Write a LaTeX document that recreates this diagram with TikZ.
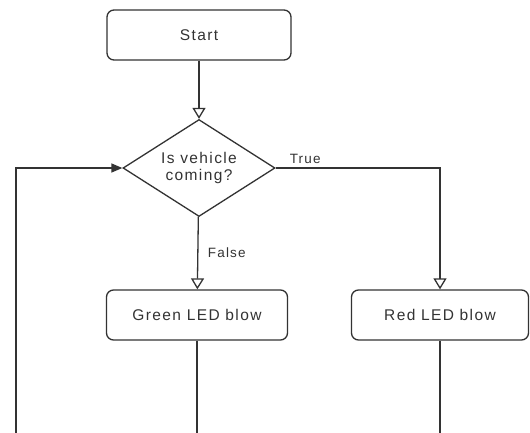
\documentclass[tikz,border=0pt]{standalone}
\usepackage{fontspec}
\setmainfont[LetterSpace=9]{Liberation Sans}
\usetikzlibrary{arrows.meta, shapes.geometric}
\definecolor{linegray}{HTML}{333333}
\tikzset{
    stepbox/.style={rectangle, rounded corners=7pt, draw=linegray, line width=1.3pt, minimum height=50pt, text=linegray, font=\fontsize{15.5}{17}\selectfont},
    decide/.style={diamond, draw=linegray, line width=1.3pt, minimum width=152pt, minimum height=97pt, inner sep=0pt, aspect=1.57, align=center, text=linegray, font=\fontsize{15.5}{16.5}\selectfont},
    flow/.style={-{Triangle[open, width=13pt, length=11pt, fill=white]}, draw=linegray, line width=1.3pt},
    back/.style={-{Triangle[width=9pt, length=11pt]}, draw=linegray, line width=1.3pt},
    line/.style={-, draw=linegray, line width=1.3pt},
    lbl/.style={text=linegray, font=\fontsize{13.5}{15}\selectfont},
}
\begin{document}
\begin{tikzpicture}[x=1pt, y=-1pt]
    \useasboundingbox (0,0) rectangle (530,432);
    \node[stepbox, minimum width=184pt] (start) at (199,35) {Start};
    \node[decide] (vehicle) at (199,168) {Is vehicle\\coming?};
    \node[stepbox, minimum width=181pt] (green) at (197,315) {Green LED blow};
    \node[stepbox, minimum width=177pt] (red) at (440,315) {Red LED blow};
    \coordinate (loopend) at (16,434);
    \coordinate (greenend) at (197,434);
    \coordinate (redend) at (440,434);
    \draw[flow] (start) -- (vehicle);
    \draw[flow] (vehicle) -- node[lbl, right=6pt] {False} (green);
    \draw[flow] (vehicle.east) -| node[lbl, pos=0.09, above] {True} (red.north);
    \draw[back] (loopend) |- (vehicle.west);
    \draw[line] (green) -- (greenend);
    \draw[line] (red) -- (redend);
\end{tikzpicture}
\end{document}
